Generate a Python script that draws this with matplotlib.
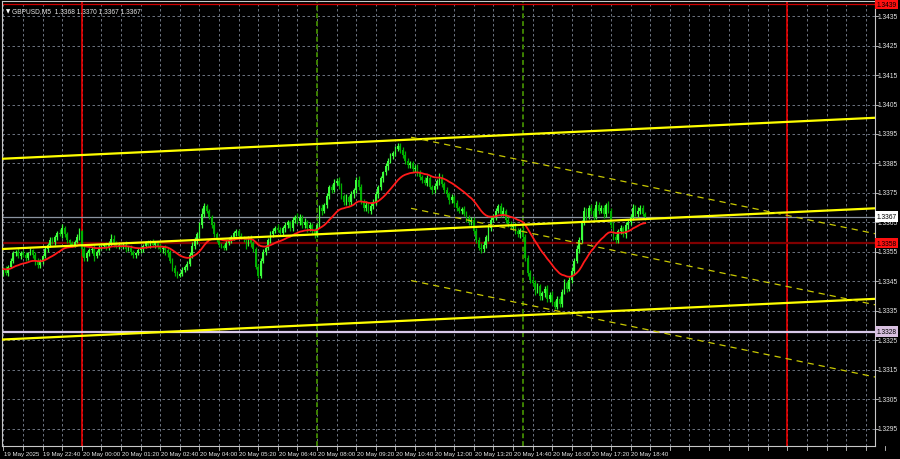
import numpy as np
import pandas as pd
import matplotlib
matplotlib.use('Agg')
import matplotlib.pyplot as plt
import matplotlib.transforms as mtransforms

# ---- datos (precios en puntos sobre 1.33000, barras M5 desde 19 May 21:20) ----
first_bar = -32          # barra 0 = 20 May 00:00
open_first = 478
close_pts = [
    492, 480, 500, 520,  545, 550, 535, 548,  540, 530, 545, 555,  540, 520, 505, 515,
    535, 560, 575, 590,  585, 600, 615, 610,  630, 610, 590, 580,  575, 585, 600, 620,
    560, 530, 545, 555,  560, 535, 550, 565,  570, 575, 565, 580,  595, 580, 570, 575,
    570, 575, 560, 565,  550, 540, 545, 555,  560, 570, 580, 575,  585, 575, 580, 570,
    560, 565, 555, 545,  520, 495, 480, 470,  475, 490, 500, 510,  540, 570, 590, 610,
    640, 680, 705, 690,  670, 640, 610, 590,  575, 570, 565, 580,  590, 600, 615, 620,
    605, 600, 595, 590,  595, 580, 560, 500,  470, 520, 550, 565,  590, 610, 620, 630,
    625, 615, 630, 640,  650, 630, 660, 670,  655, 665, 640, 650,  630, 640, 620, 610,
    640, 700, 690, 710,  740, 770, 760, 785,  790, 775, 740, 720,  735, 720, 745, 760,
    795, 770, 720, 700,  710, 690, 705, 720,  745, 770, 800, 820,  840, 860, 875, 885,
    900, 910, 895, 880,  860, 845, 850, 830,  835, 820, 805, 795,  785, 800, 770, 760,
    775, 790, 805, 780,  760, 745, 725, 735,  715, 700, 690, 695,  680, 665, 650, 660,
    620, 590, 565, 560,  575, 600, 630, 660,  670, 690, 705, 680,  690, 660, 645, 635,
    640, 620, 610, 625,  600, 530, 480, 455,  445, 420, 435, 400,  410, 425, 390, 405,
    380, 365, 390, 375,  415, 445, 425, 455,  485, 520, 560, 590,  650, 690, 670, 700,
    690, 670, 710, 690,  700, 680, 710, 690,  640, 600, 590, 620,  630, 610, 640, 650,
    670, 700, 680, 690,  700, 680, 667,
]
upper_wick = [
    8, 12, 6, 10,  7, 5, 12, 6,  9, 11, 5, 8,  6, 10, 8, 12,
    5, 9, 7, 11,  12, 8, 6, 14,  15, 9, 7, 5,  8, 6, 10, 12,
    6, 14, 9, 7,  8, 12, 5, 9,  10, 6, 8, 7,  15, 12, 6, 8,
    5, 9, 11, 6,  8, 7, 5, 10,  9, 6, 8, 12,  7, 10, 5, 6,
    9, 5, 8, 7,  10, 8, 12, 6,  7, 9, 6, 11,  10, 14, 12, 8,
    12, 18, 10, 9,  7, 6, 11, 8,  9, 5, 8, 10,  12, 7, 6, 9,
    8, 10, 5, 6,  9, 12, 8, 7,  10, 8, 11, 9,  6, 12, 10, 8,
    14, 9, 7, 10,  8, 6, 9, 7,  12, 15, 10, 14,  9, 11, 7, 12,
    8, 10, 13, 6,  11, 7, 9, 14,  12, 15, 8, 6,  10, 8, 12, 7,
    9, 11, 12, 10,  12, 8, 10, 9,  11, 8, 7, 6,  10, 9, 12, 7,
    8, 11, 9, 10,  12, 7, 9, 8,  10, 12, 8, 6,  9, 11, 7, 8,
    10, 8, 12, 9,  7, 10, 8, 11,  9, 12, 6, 8,  11, 9, 10, 7,
    8, 10, 12, 14,  12, 9, 11, 8,  10, 8, 9, 12,  11, 7, 10, 9,
    8, 12, 10, 7,  9, 11, 8, 10,  12, 9, 10, 8,  7, 10, 12, 9,
    11, 8, 9, 12,  10, 12, 8, 9,  14, 10, 12, 11,  9, 12, 10, 8,
    11, 9, 12, 10,  8, 10, 7, 12,  9, 11, 10, 8,  12, 9, 11, 10,
    10, 12, 9, 11,  8, 10, 6,
]
lower_wick = [
    10, 8, 12, 6,  8, 10, 7, 9,  6, 12, 8, 7,  10, 14, 9, 8,
    7, 6, 10, 8,  9, 11, 8, 6,  12, 8, 10, 9,  7, 9, 6, 10,
    25, 12, 9, 8,  10, 14, 7, 9,  8, 6, 10, 7,  9, 12, 8, 10,
    7, 9, 11, 8,  12, 10, 9, 7,  8, 11, 7, 9,  10, 8, 12, 9,
    11, 14, 15, 12,  9, 8, 10, 7,  6, 8, 9, 10,  8, 9, 10, 12,
    14, 10, 12, 9,  8, 10, 9, 7,  9, 8, 7, 10,  8, 9, 10, 11,
    9, 7, 12, 30,  20, 14, 9, 8,  10, 8, 7, 9,  8, 10, 9, 7,
    9, 8, 10, 12,  10, 9, 8, 11,  9, 12, 8, 10,  11, 9, 10, 12,
    10, 8, 14, 9,  12, 10, 9, 8,  9, 11, 10, 12,  10, 14, 12, 11,
    9, 10, 8, 11,  12, 9, 10, 8,  10, 11, 9, 12,  8, 12, 10, 9,
    10, 8, 9, 11,  12, 10, 11, 9,  8, 11, 12, 10,  9, 10, 8, 12,
    10, 12, 14, 10,  9, 8, 11, 10,  12, 10, 9, 11,  8, 12, 10, 9,
    10, 9, 8, 12,  11, 10, 12, 9,  10, 12, 9, 11,  9, 11, 10, 8,
    12, 10, 9, 11,  10, 9, 12, 10,  11, 15, 10, 12,  12, 14, 10, 11,
    9, 10, 8, 12,  10, 8, 11, 9,  9, 10, 8, 12,  10, 9, 11, 8,
    12, 10, 9, 11,  8, 14, 10, 9,  9, 11, 10, 8,  10, 9, 12, 11,
    9, 10, 8, 11,  10, 9, 8,
]

# etiquetas del eje de tiempo (barra, texto)
time_bars = [-32, -16, 0, 16, 32, 48, 64, 80, 96, 112, 128, 144, 160, 176, 192, 208, 224]
time_labels = ['19 May 2025', '19 May 22:40', '20 May 00:00', '20 May 01:20', '20 May 02:40',
               '20 May 04:00', '20 May 05:20', '20 May 06:40', '20 May 08:00', '20 May 09:20',
               '20 May 10:40', '20 May 12:00', '20 May 13:20', '20 May 14:40', '20 May 16:00',
               '20 May 17:20', '20 May 18:40']
price_ticks = [1.3295, 1.3305, 1.3315, 1.3325, 1.3335, 1.3345, 1.3355, 1.3365,
               1.3375, 1.3385, 1.3395, 1.3405, 1.3415, 1.3425, 1.3435]

# líneas dibujadas en el gráfico
day_lines = [0, 288]          # separadores rojos
session_lines = [96, 180]     # verdes punteadas
hlines = {1.3439: ('#d00000', '#ff1010', 'black'),
          1.3358: ('#800000', '#ff1010', 'black'),
          1.3367: ('#8a93a0', 'white', 'black'),
          1.3328: ('#d8c8e8', '#d8c0e0', 'black')}
# canal alcista (barra ini, precio ini, barra fin, precio fin)
channel_up = [(-32.6, 1.33866, 323.8, 1.34005),
              (-32.6, 1.33560, 323.8, 1.33698),
              (-32.6, 1.33253, 323.8, 1.33391)]
# canal bajista punteado
channel_dn = [(134.4, 1.33939, 323.8, 1.33612),
              (134.4, 1.33698, 323.8, 1.33371),
              (134.4, 1.33453, 323.8, 1.33126)]

# ---- preparar velas ----
c = 1.33 + np.array(close_pts) / 1e5
o = np.r_[1.33 + open_first / 1e5, c[:-1]]
h = np.maximum(o, c) + np.array(upper_wick) / 1e5
l = np.minimum(o, c) - np.array(lower_wick) / 1e5
idx = np.arange(first_bar, first_bar + len(c))
ma = pd.Series(c).ewm(span=24, adjust=False).mean().values

fig = plt.figure(figsize=(9, 4.6), dpi=100, facecolor='black')
ax = fig.add_axes([2/900, 13/460, 873/900, 445/460])
ax.set_facecolor('black')
ax.set_xlim(-32.6, 323.8)
ax.set_ylim(1.32892, 1.34401)

# grilla
grid_kw = dict(color='#7d8594', lw=0.6, ls=(0, (3, 3)), zorder=0)
for p in price_ticks:
    ax.axhline(p, **grid_kw)
for b in range(-32, 330, 8):
    ax.axvline(b, **grid_kw)

for b in day_lines:
    ax.axvline(b, color='#ff0000', lw=1.1, zorder=1)
for b in session_lines:
    ax.axvline(b, color='#3d8200', lw=1.4, ls=(0, (2.5, 1.5)), zorder=1)

for p, (lc, bc, tc) in hlines.items():
    ax.axhline(p, color=lc, lw=1.6 if p in (1.3328, 1.3358) else 0.9, zorder=1)

# velas
up = c >= o
col = np.where(up, '#3cff3c', '#00b000')
ax.vlines(idx, l, h, colors=col, lw=0.9, zorder=2)
body = np.where(np.abs(c - o) < 2e-6, 2e-6, c - o)
ax.bar(idx, body, bottom=o, width=0.72, color=col, lw=0, zorder=3)

ax.plot(idx, ma, color='#ff1a1a', lw=1.3, zorder=4)

for x0, y0, x1, y1 in channel_up:
    ax.plot([x0, x1], [y0, y1], color='#ffff00', lw=1.6, zorder=5)
for x0, y0, x1, y1 in channel_dn:
    ax.plot([x0, x1], [y0, y1], color='#c8c800', lw=0.9, ls=(0, (5, 4)), zorder=5)

# marco y ejes
for s in ax.spines.values():
    s.set_color('#c8c8c8')
    s.set_linewidth(0.8)
ax.set_xticks([])
ax.set_yticks([])

fam = ['Liberation Sans', 'DejaVu Sans']
tr_y = mtransforms.blended_transform_factory(ax.transAxes, ax.transData)
tr_x = mtransforms.blended_transform_factory(ax.transData, ax.transAxes)

for p in price_ticks:
    ax.text(1.0025, p, f'{p:.4f}', transform=tr_y, ha='left', va='center', clip_on=False,
            family=fam, fontsize=4.8, color='#e6e6e6')
    ax.plot([1.0, 1.003], [p, p], transform=tr_y, color='#c8c8c8', lw=0.6, clip_on=False)

for p, (lc, bc, tc) in hlines.items():
    ax.text(1.0015, p, f'{p:.4f}', transform=tr_y, ha='left', va='center', clip_on=False,
            family=fam, fontsize=4.8, color=tc, zorder=10,
            bbox=dict(boxstyle='square,pad=0.25', fc=bc, ec='none'))

for b in range(-32, 330, 8):
    ax.plot([b, b], [0, -0.008], transform=tr_x, color='#c8c8c8', lw=0.6, clip_on=False)
for b, t in zip(time_bars, time_labels):
    ax.text(b + 0.3, -0.016, t, transform=tr_x, ha='left', va='center', clip_on=False,
            family=fam, fontsize=4.4, color='#e6e6e6')

# título
ax.text(0.004, 0.978, '\u25bc', transform=ax.transAxes, family='DejaVu Sans', fontsize=4,
        color='white', va='center', ha='left')
ax.text(0.012, 0.978, 'GBPUSD,M5  1.3368 1.3370 1.3367 1.3367', transform=ax.transAxes,
        va='center', ha='left', family=fam, fontsize=4.8, color='#e6e6e6')

fig.savefig('out.png', dpi=100, facecolor='black')
